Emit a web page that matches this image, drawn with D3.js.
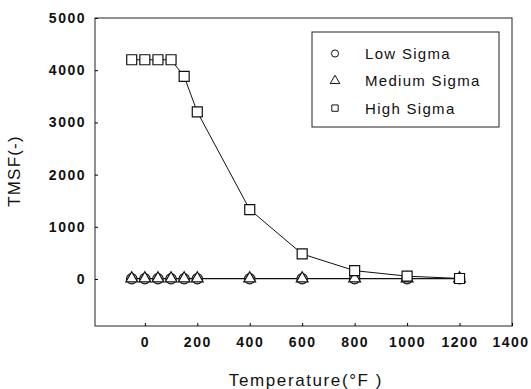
<!DOCTYPE html>
<html lang="en">
<head>
  <meta charset="UTF-8">
  <title>TMSF vs Temperature</title>
  <script src="https://d3js.org/d3.v7.min.js"></script>
  <style>
    body { margin: 0; background: #fff; }
    svg text { font-family: Arial, 'Liberation Sans', sans-serif; fill: #111; }
    .tick text { font-size: 14px; font-weight: bold; letter-spacing: 1.5px; }
    .legend text { font-size: 15px; letter-spacing: 1.3px; }
  </style>
</head>
<body>
<svg width="531" height="389"></svg>
<script>
  // Data
  const temps = [-50, 0, 50, 100, 150, 200, 400, 600, 800, 1000, 1200];
  const lowSigma = [5, 5, 5, 5, 5, 5, 5, 5, 5, 5, 5];
  const mediumSigma = [10, 10, 10, 10, 10, 10, 10, 10, 10, 10, 10];
  const highSigma = [4200, 4200, 4200, 4200, 3880, 3200, 1330, 480, 160, 55, 10];
  const seriesNames = ["Low Sigma", "Medium Sigma", "High Sigma"];
  const xTicks = [0, 200, 400, 600, 800, 1000, 1200, 1400];
  const yTicks = [0, 1000, 2000, 3000, 4000, 5000];

  const margin = {top: 18, right: 19, bottom: 63, left: 95},
        width = 531 - margin.left - margin.right,
        height = 389 - margin.top - margin.bottom;

  const svg = d3.select("svg");
  const g = svg.append("g").attr("transform", `translate(${margin.left},${margin.top})`);

  const x = d3.scaleLinear().domain([-190, 1400]).range([0, width]);
  const y = d3.scaleLinear().domain([-900, 5000]).range([height, 0]);

  // frame
  g.append("rect")
    .attr("width", width).attr("height", height)
    .attr("fill", "none").attr("stroke", "#222").attr("stroke-width", 1);

  // axes (ticks point inward)
  const xAxis = g.append("g")
    .attr("transform", `translate(0,${height})`)
    .call(d3.axisBottom(x).tickValues(xTicks).tickSize(-3).tickPadding(11).tickFormat(d3.format("d")));
  xAxis.select(".domain").remove();
  // keep the last label inside the window
  xAxis.selectAll(".tick text").filter(d => d === 1400).attr("dx", "-1.5px");

  const yAxis = g.append("g")
    .call(d3.axisLeft(y).tickValues(yTicks).tickSize(-3).tickPadding(9).tickFormat(d3.format("d")));
  yAxis.select(".domain").remove();

  // axis titles
  svg.append("text")
    .attr("x", 306).attr("y", 386)
    .attr("text-anchor", "middle")
    .style("font-size", "17px")
    .style("letter-spacing", "1.6px")
    .text("Temperature(°F )");

  svg.append("text")
    .attr("transform", "translate(20,171) rotate(-90)")
    .attr("text-anchor", "middle")
    .style("font-size", "17px")
    .style("letter-spacing", "1.2px")
    .text("TMSF(-)");

  const line = d3.line().x(d => x(d[0])).y(d => y(d[1]));
  const allSeries = [lowSigma, mediumSigma, highSigma].map(vals => temps.map((t, i) => [t, vals[i]]));

  allSeries.forEach(pts => {
    g.append("path").datum(pts)
      .attr("d", line).attr("fill", "none")
      .attr("stroke", "#111").attr("stroke-width", 1);
  });

  const symbols = [d3.symbolCircle, d3.symbolTriangle, d3.symbolSquare];
  const sizes = [85, 60, 100];

  allSeries.forEach((pts, k) => {
    g.selectAll(null).data(pts).enter().append("path")
      .attr("transform", d => `translate(${x(d[0])},${y(d[1])})`)
      .attr("d", d3.symbol().type(symbols[k]).size(sizes[k]))
      .attr("fill", "#fff").attr("stroke", "#111").attr("stroke-width", 1.2);
  });

  // legend
  const legend = svg.append("g").attr("class", "legend");
  legend.append("rect")
    .attr("x", 312).attr("y", 32).attr("width", 187).attr("height", 95)
    .attr("fill", "#fff").attr("stroke", "#222");
  seriesNames.forEach((name, i) => {
    const ly = 53.5 + i * 27.3;
    legend.append("path")
      .attr("transform", `translate(335,${ly})`)
      .attr("d", d3.symbol().type(symbols[i]).size(40))
      .attr("fill", "#fff").attr("stroke", "#111");
    legend.append("text")
      .attr("x", 365).attr("y", ly).attr("dy", "0.36em")
      .text(name);
  });
</script>
</body>
</html>
